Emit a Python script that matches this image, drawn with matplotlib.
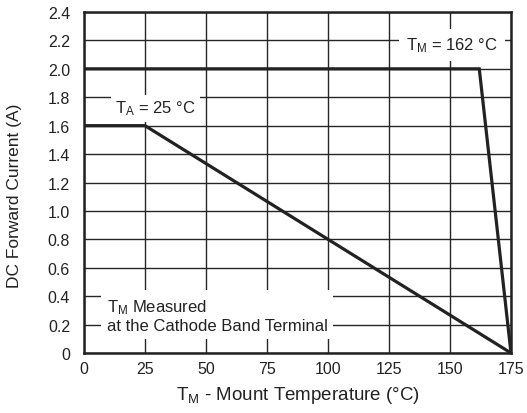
import matplotlib
matplotlib.use("Agg")
import matplotlib.pyplot as plt

plt.rcParams['font.family'] = ['Liberation Sans', 'DejaVu Sans']
plt.rcParams['mathtext.fontset'] = 'custom'
plt.rcParams['mathtext.rm'] = 'Liberation Sans'
plt.rcParams['mathtext.it'] = 'Liberation Sans'

# Data
tm_x = [0, 162, 175]
tm_y = [2.0, 2.0, 0.0]
ta_x = [0, 25, 175]
ta_y = [1.6, 1.6, 0.0]
x_ticks = [0, 25, 50, 75, 100, 125, 150, 175]
y_ticks = [0, 0.2, 0.4, 0.6, 0.8, 1.0, 1.2, 1.4, 1.6, 1.8, 2.0, 2.2, 2.4]
y_labels = ['0', '0.2', '0.4', '0.6', '0.8', '1.0', '1.2', '1.4', '1.6', '1.8', '2.0', '2.2', '2.4']

fig = plt.figure(figsize=(5.27, 4.14), dpi=100)
ax = fig.add_axes([84/527, 1-354/414, (511-84)/527, (354-13)/414])

ax.set_xlim(0, 175)
ax.set_ylim(0, 2.4)
ax.set_xticks(x_ticks)
ax.set_yticks(y_ticks)
ax.set_yticklabels(y_labels)
ax.grid(True, color='#262626', linewidth=1.0)
ax.set_axisbelow(True)
ax.tick_params(axis='y', length=0, labelsize=11.5, colors='#222222', pad=10)
ax.tick_params(axis='x', length=0, labelsize=11.5, colors='#222222', pad=6)
for s in ax.spines.values():
    s.set_linewidth(1.8)
    s.set_color('#222222')

ax.plot(tm_x, tm_y, color='#222222', linewidth=2.3, solid_joinstyle='miter', zorder=3)
ax.plot(ta_x, ta_y, color='#222222', linewidth=2.3, solid_joinstyle='miter', zorder=3)

box = dict(facecolor='white', edgecolor='none', pad=3)
ax.text(12.7, 1.724, r'$\mathrm{T_A}$ = 25 °C', fontsize=12, color='#222222',
        ha='left', va='center', bbox=box, zorder=4)
ax.text(132, 2.168, r'$\mathrm{T_M}$ = 162 °C', fontsize=12, color='#222222',
        ha='left', va='center', bbox=dict(facecolor='white', edgecolor='none', pad=5), zorder=4)
ax.text(9.4, 0.267, r'$\mathrm{T_M}$ Measured' + '\nat the Cathode Band Terminal', fontsize=12,
        color='#222222', ha='left', va='center', linespacing=1.2,
        bbox=dict(facecolor='white', edgecolor='none', pad=4), zorder=4)

ax.set_xlabel(r'$\mathrm{T_M}$ - Mount Temperature (°C)', fontsize=13.5, color='#222222', va='center')
ax.set_ylabel('DC Forward Current (A)', fontsize=12.5, color='#222222', va='center')
ax.xaxis.set_label_coords(0.5, (354-396)/341)
ax.yaxis.set_label_coords((15-84)/427, (354-196)/341)

fig.savefig('out.png', dpi=100)
